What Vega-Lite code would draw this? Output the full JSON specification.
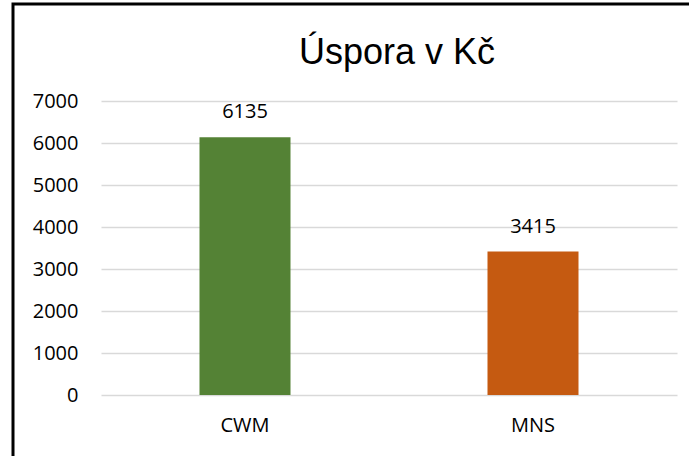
{
  "$schema": "https://vega.github.io/schema/vega-lite/v6.json",
  "autosize": {"type": "none"},
  "padding": {"left": 13, "top": 4, "right": 0, "bottom": 0},
  "width": 700,
  "height": 470,
  "background": "white",
  "title": {
    "text": "Úspora v Kč",
    "font": "Liberation Sans",
    "fontSize": 36,
    "fontWeight": "normal",
    "color": "#000000",
    "anchor": "middle",
    "frame": "group",
    "baseline": "alphabetic",
    "offset": -60,
    "dx": 34,
    "dy": 36
  },
  "data": {
    "values": [
      {"kategorie": "CWM", "uspora": 6135},
      {"kategorie": "MNS", "uspora": 3415}
    ]
  },
  "encoding": {
    "x": {
      "field": "kategorie",
      "type": "nominal",
      "sort": null,
      "title": null,
      "scale": {"range": [88, 664], "paddingInner": 0.684, "paddingOuter": 0.342},
      "axis": {
        "offset": -79,
        "domain": false,
        "ticks": false,
        "grid": false,
        "labelAngle": 0,
        "labelPadding": 20,
        "labelFont": "Open Sans",
        "labelFontSize": 20,
        "labelColor": "#000000"
      }
    },
    "y": {
      "field": "uspora",
      "type": "quantitative",
      "title": null,
      "scale": {"domain": [0, 7000], "nice": false, "range": [391, 97]},
      "axis": {
        "offset": -88,
        "values": [0, 1000, 2000, 3000, 4000, 5000, 6000, 7000],
        "format": "d",
        "domain": false,
        "ticks": false,
        "grid": true,
        "gridColor": "#d9d9d9",
        "gridWidth": 1.5,
        "labelPadding": 23,
        "labelFont": "Open Sans",
        "labelFontSize": 20,
        "labelColor": "#000000"
      }
    }
  },
  "layer": [
    {
      "mark": {"type": "bar"},
      "encoding": {
        "color": {
          "field": "kategorie",
          "type": "nominal",
          "scale": {"domain": ["CWM", "MNS"], "range": ["#548235", "#C55A11"]},
          "legend": null
        }
      }
    },
    {
      "mark": {
        "type": "text",
        "baseline": "middle",
        "dy": -25,
        "font": "Open Sans",
        "fontSize": 20,
        "color": "#000000"
      },
      "encoding": {
        "text": {"field": "uspora", "type": "quantitative", "format": "d"}
      }
    }
  ],
  "config": {
    "view": {"stroke": "#000000", "strokeWidth": 3}
  }
}
